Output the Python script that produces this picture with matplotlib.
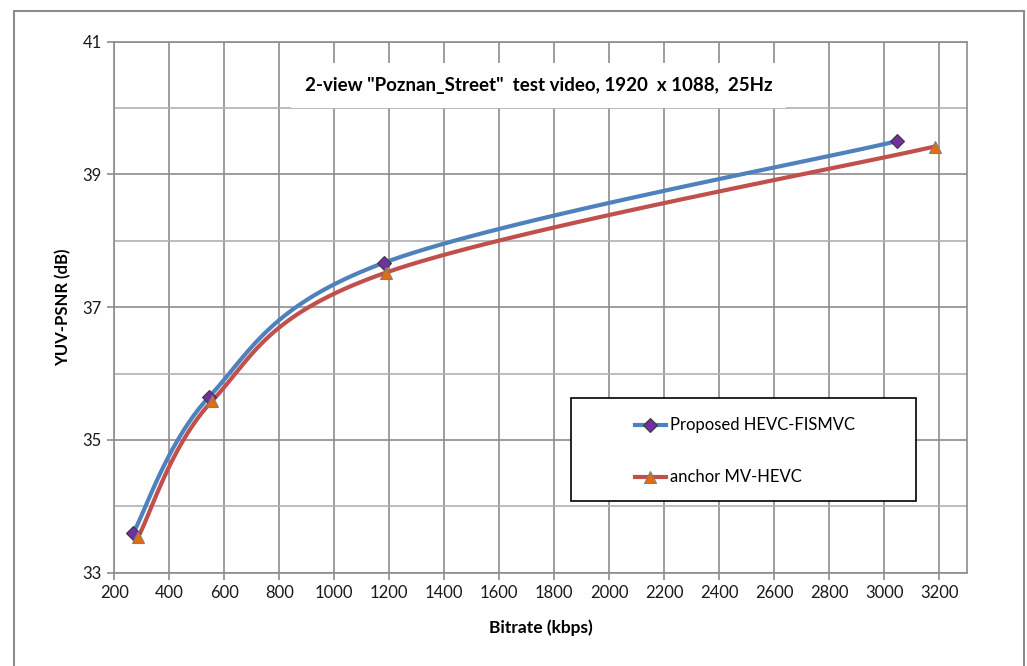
import numpy as np
import matplotlib.pyplot as plt
from matplotlib.patches import Rectangle

plt.rcParams['font.family'] = ['Lato', 'DejaVu Sans']

# data
proposed_rate = [269, 545, 1181, 3045]
proposed_psnr = [33.60, 35.65, 37.67, 39.50]
anchor_rate = [287, 556, 1187, 3183]
anchor_psnr = [33.54, 35.59, 37.52, 39.42]

x_ticks = list(range(200, 3201, 200))
y_ticks = [33, 35, 37, 39, 41]
y_minor = [34, 36, 38, 40]

title = '2-view "Poznan_Street"  test video, 1920  x 1088,  25Hz'
label_proposed = 'Proposed HEVC-FISMVC'
label_anchor = 'anchor MV-HEVC'


def smooth(xs, ys, n=40):
    # Excel-like smoothed line: Catmull-Rom as cubic bezier segments
    p = np.column_stack([xs, ys]).astype(float)
    p = np.vstack([p[0], p, p[-1]])
    out = []
    for i in range(1, len(p) - 2):
        p0, p1, p2, p3 = p[i - 1], p[i], p[i + 1], p[i + 2]
        c1 = p1 + (p2 - p0) / 6
        c2 = p2 - (p3 - p1) / 6
        t = np.linspace(0, 1, n)[:, None]
        seg = ((1 - t) ** 3) * p1 + 3 * ((1 - t) ** 2) * t * c1 + 3 * (1 - t) * t ** 2 * c2 + t ** 3 * p2
        out.append(seg)
    out = np.vstack(out)
    return out[:, 0], out[:, 1]


fig = plt.figure(figsize=(10.27, 6.66), dpi=100)
ax = fig.add_axes([0.1113, 0.1401, 0.8300, 0.7973])

blue = '#4F81BD'
red = '#C0504D'

sx, sy = smooth(proposed_rate, proposed_psnr)
ax.plot(sx, sy, color=blue, lw=3, zorder=3, solid_capstyle='round')
sx, sy = smooth(anchor_rate, anchor_psnr)
ax.plot(sx, sy, color=red, lw=3, zorder=3, solid_capstyle='round')
ax.plot(proposed_rate, proposed_psnr, ls='none', marker='D', ms=7, mfc='#7030A0', mec='#3a3a3a', mew=0.8, zorder=4)
ax.plot(anchor_rate, anchor_psnr, ls='none', marker='^', ms=9, mfc='#E46C0A', mec='#7f7f7f', mew=0.8, zorder=4)

ax.set_xlim(200, 3300)
ax.set_ylim(33, 41)
ax.set_xticks(x_ticks)
ax.set_yticks(y_ticks)
ax.set_yticks(y_minor, minor=True)
ax.grid(True, which='major', color='#8c8c8c', lw=1.2)
ax.grid(True, which='minor', axis='y', color='#b0b0b0', lw=1.2)
ax.tick_params(axis='y', which='minor', length=0)
ax.tick_params(which='major', length=5, width=1.2, color='#8c8c8c', labelsize=12, pad=4,
               labelcolor='#1a1a1a')
ax.set_axisbelow(True)
for s in ax.spines.values():
    s.set_color('#8c8c8c')
    s.set_linewidth(1.2)

ax.set_xlabel('Bitrate (kbps)', fontsize=12.5, fontweight='bold', labelpad=13)
ax.set_ylabel('YUV-PSNR (dB)', fontsize=12, fontweight='bold', labelpad=8)

# title sits inside the plot area on a white box
ax.text(0.498, 0.918, title, transform=ax.transAxes, ha='center', va='center',
        fontsize=13.5, fontweight='bold', zorder=5,
        bbox=dict(facecolor='white', edgecolor='none', pad=10))

# legend box
ax.add_patch(Rectangle((0.5354, 0.1352), 0.4048, 0.1937, transform=ax.transAxes,
                       facecolor='white', edgecolor='black', lw=1.2, zorder=5))
for yy, lab, col, mk, mc, ec, ms in [(0.2790, label_proposed, blue, 'D', '#7030A0', '#3a3a3a', 7),
                                     (0.1808, label_anchor, red, '^', '#E46C0A', '#7f7f7f', 9)]:
    ax.plot([0.6104, 0.6472], [yy, yy], transform=ax.transAxes, color=col, lw=3, zorder=6)
    ax.plot([0.6288], [yy], transform=ax.transAxes, marker=mk, ms=ms, mfc=mc, mec=ec, mew=0.8, zorder=7)
    ax.text(0.652, yy, lab, transform=ax.transAxes, va='center', ha='left', fontsize=12, zorder=7)

# outer chart border
fig.patches.append(Rectangle((13.5 / 1027, -0.05), (1024 - 13.5) / 1027, 1.05 - 11 / 666,
                             transform=fig.transFigure, fill=False, edgecolor='#8c8c8c', lw=1.5))

fig.savefig('out.png', dpi=100)
